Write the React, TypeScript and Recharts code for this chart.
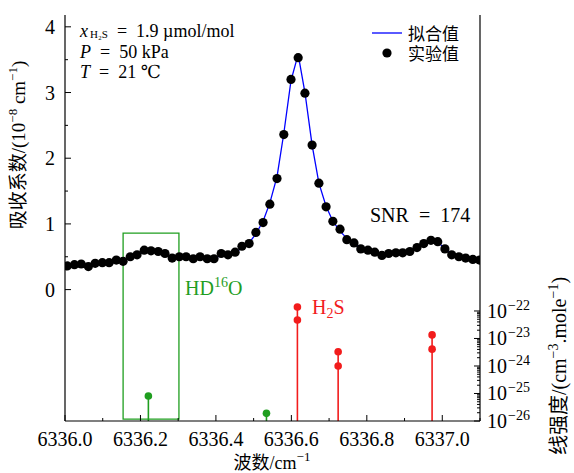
import React from 'react';
import { ComposedChart, XAxis, YAxis, Scatter, Line, ReferenceLine, ReferenceArea } from 'recharts';

const wavenumbers = [
  6336.006, 6336.025, 6336.043, 6336.062, 6336.080, 6336.099, 6336.117, 6336.136, 6336.154, 6336.173,
  6336.191, 6336.210, 6336.228, 6336.247, 6336.265, 6336.284, 6336.303, 6336.321, 6336.340, 6336.358,
  6336.377, 6336.395, 6336.414, 6336.432, 6336.451, 6336.469, 6336.488, 6336.506, 6336.525, 6336.543,
  6336.562, 6336.580, 6336.599, 6336.618, 6336.636, 6336.655, 6336.673, 6336.692, 6336.710, 6336.729,
  6336.747, 6336.766, 6336.784, 6336.803, 6336.821, 6336.840, 6336.858, 6336.877, 6336.895, 6336.914,
  6336.933, 6336.951, 6336.970, 6336.988, 6337.007, 6337.025, 6337.044, 6337.062, 6337.081, 6337.099,
];

const measured = [
  0.36, 0.38, 0.39, 0.35, 0.40, 0.41, 0.41, 0.45, 0.43, 0.50,
  0.53, 0.60, 0.59, 0.58, 0.55, 0.48, 0.50, 0.50, 0.47, 0.50,
  0.47, 0.47, 0.55, 0.53, 0.57, 0.66, 0.70, 0.87, 1.02, 1.30,
  1.69, 2.36, 3.20, 3.53, 2.99, 2.20, 1.62, 1.26, 1.04, 0.92,
  0.76, 0.71, 0.62, 0.60, 0.57, 0.52, 0.55, 0.56, 0.56, 0.58,
  0.64, 0.70, 0.75, 0.73, 0.62, 0.53, 0.50, 0.48, 0.46, 0.45,
];

const fitted = [
  0.37, 0.37, 0.37, 0.37, 0.38, 0.39, 0.40, 0.42, 0.44, 0.48,
  0.53, 0.58, 0.60, 0.58, 0.54, 0.50, 0.49, 0.48, 0.48, 0.48,
  0.48, 0.49, 0.51, 0.53, 0.57, 0.63, 0.71, 0.85, 1.04, 1.32,
  1.72, 2.38, 3.18, 3.58, 3.00, 2.20, 1.62, 1.27, 1.04, 0.89,
  0.78, 0.70, 0.64, 0.60, 0.57, 0.55, 0.54, 0.54, 0.55, 0.58,
  0.63, 0.69, 0.74, 0.72, 0.63, 0.54, 0.50, 0.47, 0.46, 0.45,
];

const hdoLines = [6336.221, 6336.534];
const hdoStrengths = [8.1e-26, 1.9e-26];

const h2sLines = [6336.616, 6336.724, 6336.973];
const h2sStrengthA = [1.4e-22, 3.3e-24, 1.35e-23];
const h2sStrengthB = [4.7e-23, 1.0e-24, 4.1e-24];

const hdoBox = { x1: 6336.154, x2: 6336.302, y1: -1.97, y2: 0.86 };

const xDomain = [6336.0, 6337.1];
const xTicks = [6336.0, 6336.1, 6336.2, 6336.3, 6336.4, 6336.5, 6336.6, 6336.7, 6336.8, 6336.9, 6337.0, 6337.1];
const leftDomain = [-2.0, 4.18];
const leftTicks = [0, 0.5, 1, 1.5, 2, 2.5, 3, 3.5, 4];
const rightDomain = [-26, -11.24];
const rightMajor = [-26, -25, -24, -23, -22];
const rightMinorFactors = [2, 3, 4, 5, 6, 7, 8, 9];

const FONT = "'Liberation Serif', 'DejaVu Serif', 'Noto Sans CJK SC', serif";
const GREEN = '#1f9e1f';
const RED = '#f21c1c';

const rightTicks: number[] = [];
rightMajor.forEach((e) => {
  rightTicks.push(e);
  if (e < -22) rightMinorFactors.forEach((k) => rightTicks.push(e + Math.log10(k)));
});

const scatterData = wavenumbers.map((x, i) => ({ x, y: measured[i] }));
const fitData = wavenumbers.map((x, i) => ({ x, y: fitted[i] }));
const hdoData = hdoLines.map((x, i) => ({ x, y: Math.log10(hdoStrengths[i]) }));
const h2sData = [
  ...h2sLines.map((x, i) => ({ x, y: Math.log10(h2sStrengthA[i]) })),
  ...h2sLines.map((x, i) => ({ x, y: Math.log10(h2sStrengthB[i]) })),
];

const XTick = (props: any) => {
  const { x, y, payload } = props;
  const v = payload.value as number;
  const major = Math.round(v * 10) % 2 === 0;
  return (
    <g>
      <line x1={x} x2={x} y1={y} y2={y - (major ? 6 : 3)} stroke="#000" strokeWidth={1} />
      {major && (
        <text x={x} y={y + 25} textAnchor="middle" fontFamily={FONT} fontSize={20} fill="#000">
          {v.toFixed(1)}
        </text>
      )}
    </g>
  );
};

const LeftTick = (props: any) => {
  const { x, y, payload } = props;
  const v = payload.value as number;
  const major = Number.isInteger(v);
  return (
    <g>
      <line x1={x} x2={x + (major ? 6 : 3)} y1={y} y2={y} stroke="#000" strokeWidth={1} />
      {major && (
        <text x={x - 10} y={y + 7} textAnchor="end" fontFamily={FONT} fontSize={20} fill="#000">
          {v}
        </text>
      )}
    </g>
  );
};

const RightTick = (props: any) => {
  const { x, y, payload } = props;
  const v = payload.value as number;
  const major = Math.abs(v - Math.round(v)) < 1e-9;
  return (
    <g>
      <line x1={x} x2={x - (major ? 6 : 3)} y1={y} y2={y} stroke="#000" strokeWidth={1} />
      {major && (
        <text x={x + 7} y={y + 7} fontFamily={FONT} fontSize={20} fill="#000">
          10
          <tspan dx={1} dy={-8} fontSize={14}>{'\u2212' + Math.abs(Math.round(v))}</tspan>
        </text>
      )}
    </g>
  );
};

const Dot = (color: string, r: number) => (p: any) => <circle cx={p.cx} cy={p.cy} r={r} fill={color} />;

export default function App() {
  return (
    <div style={{ position: 'absolute', left: 0, top: 0, width: 574, height: 473, background: '#fff' }}>
      <ComposedChart width={574} height={473} margin={{ top: 15, right: 0, bottom: 0, left: 0 }}>
        <XAxis
          dataKey="x"
          type="number"
          domain={xDomain}
          ticks={xTicks}
          interval={0}
          allowDataOverflow
          height={52}
          tickSize={0}
          tickMargin={0}
          tickLine={false}
          tick={<XTick />}
          axisLine={{ stroke: '#000', strokeWidth: 1.2 }}
        />
        <XAxis
          xAxisId="top"
          orientation="top"
          dataKey="x"
          type="number"
          domain={xDomain}
          height={0}
          tick={false}
          tickLine={false}
          axisLine={{ stroke: '#000', strokeWidth: 1.2 }}
        />
        <YAxis
          yAxisId="left"
          type="number"
          domain={leftDomain}
          ticks={leftTicks}
          interval={0}
          allowDataOverflow
          width={65}
          tickSize={0}
          tickMargin={0}
          tickLine={false}
          tick={<LeftTick />}
          axisLine={{ stroke: '#000', strokeWidth: 1.2 }}
        />
        <YAxis
          yAxisId="right"
          orientation="right"
          type="number"
          domain={rightDomain}
          ticks={rightTicks}
          interval={0}
          allowDataOverflow
          width={94}
          tickSize={0}
          tickMargin={0}
          tickLine={false}
          tick={<RightTick />}
          axisLine={{ stroke: '#000', strokeWidth: 1.2 }}
        />
        <ReferenceArea
          yAxisId="left"
          x1={hdoBox.x1}
          x2={hdoBox.x2}
          y1={hdoBox.y1}
          y2={hdoBox.y2}
          fill="none"
          fillOpacity={0}
          stroke={GREEN}
          strokeWidth={1.3}
          ifOverflow="visible"
        />
        {hdoData.map((d, i) => (
          <ReferenceLine
            key={'g' + i}
            yAxisId="right"
            segment={[{ x: d.x, y: rightDomain[0] }, { x: d.x, y: d.y }]}
            stroke={GREEN}
            strokeWidth={1.6}
            ifOverflow="visible"
          />
        ))}
        {h2sLines.map((x, i) => (
          <ReferenceLine
            key={'r' + i}
            yAxisId="right"
            segment={[
              { x, y: rightDomain[0] },
              { x, y: Math.log10(Math.max(h2sStrengthA[i], h2sStrengthB[i])) },
            ]}
            stroke={RED}
            strokeWidth={1.6}
            ifOverflow="visible"
          />
        ))}
        <Line
          yAxisId="left"
          data={fitData}
          dataKey="y"
          type="linear"
          stroke="#0000ff"
          strokeWidth={1.3}
          dot={false}
          isAnimationActive={false}
        />
        <Scatter yAxisId="left" data={scatterData} dataKey="y" shape={Dot('#000', 4.6)} isAnimationActive={false} />
        <Scatter yAxisId="right" data={hdoData} dataKey="y" shape={Dot(GREEN, 3.8)} isAnimationActive={false} />
        <Scatter yAxisId="right" data={h2sData} dataKey="y" shape={Dot(RED, 3.8)} isAnimationActive={false} />
      </ComposedChart>
      <svg
        width={574}
        height={473}
        style={{ position: 'absolute', left: 0, top: 0, pointerEvents: 'none' }}
        fontFamily={FONT}
      >
        {/* annotations */}
        <text x={80} y={37} fontSize={18} fill="#000">
          <tspan fontStyle="italic">x</tspan>
          <tspan fontSize={11} dx={2} dy={1}>{'H\u2082S'}</tspan>
          <tspan dy={-1}>{'\u2002=\u20021.9 \u00b5mol/mol'}</tspan>
        </text>
        <text x={80} y={57.5} fontSize={18} fill="#000">
          <tspan fontStyle="italic">P</tspan>
          <tspan>{'\u2002=\u200250 kPa'}</tspan>
        </text>
        <text x={80} y={78} fontSize={18} fill="#000">
          <tspan fontStyle="italic">T</tspan>
          <tspan>{'\u2002=\u200221 \u2103'}</tspan>
        </text>
        {/* legend */}
        <line x1={372} x2={402} y1={33} y2={33} stroke="#0000ff" strokeWidth={1.3} />
        <text x={408} y={40} fontSize={17} fill="#000">拟合值</text>
        <circle cx={387} cy={53} r={4.6} fill="#000" />
        <text x={408} y={60} fontSize={17} fill="#000">实验值</text>
        {/* SNR */}
        <text x={370} y={222} fontSize={20} fill="#000">{'SNR\u2002=\u2002174'}</text>
        {/* species labels */}
        <text x={185} y={295} fontSize={20} fill={GREEN}>
          HD<tspan dy={-8} fontSize={14}>16</tspan>
          <tspan dy={8}>O</tspan>
        </text>
        <text x={312} y={314} fontSize={20} fill={RED}>
          H<tspan dy={4} fontSize={14}>2</tspan>
          <tspan dy={-4}>S</tspan>
        </text>
        {/* axis labels */}
        <text x={272} y={469} fontSize={18} textAnchor="middle" fill="#000">
          波数/cm<tspan dy={-8} fontSize={13}>{'\u22121'}</tspan>
        </text>
        <text
          x={0}
          y={0}
          transform="translate(25,145) rotate(-90)"
          fontSize={19}
          textAnchor="middle"
          fill="#000"
        >
          吸收系数/(10<tspan dy={-8} fontSize={13}>{'\u22128'}</tspan>
          <tspan dy={8}>{' cm'}</tspan>
          <tspan dy={-8} fontSize={13}>{'\u22121'}</tspan>
          <tspan dy={8}>)</tspan>
        </text>
        <text
          x={0}
          y={0}
          transform="translate(566,366) rotate(-90)"
          fontSize={20}
          textAnchor="middle"
          fill="#000"
        >
          线强度/(cm<tspan dy={-8} fontSize={14}>{'\u22123'}</tspan>
          <tspan dy={8}>.mole</tspan>
          <tspan dy={-8} fontSize={14}>{'\u22121'}</tspan>
          <tspan dy={8}>)</tspan>
        </text>
      </svg>
    </div>
  );
}
